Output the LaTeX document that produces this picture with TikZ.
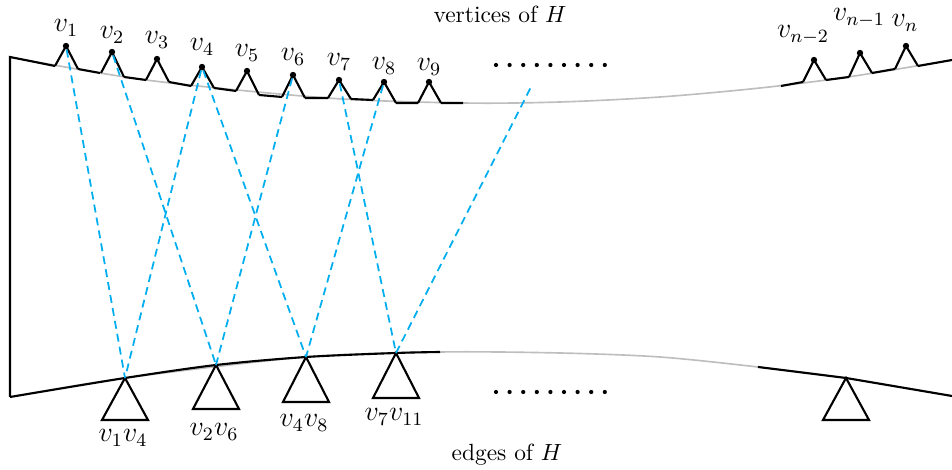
\documentclass[tikz,border=0pt]{standalone}
\usepackage{amsmath}
\usepackage{tikz}
\definecolor{LinkBlue}{HTML}{00AEEF}
\definecolor{RailGray}{HTML}{BEBEBE}

\begin{document}
\begin{tikzpicture}[x=0.015cm,y=-0.015cm,
  rail/.style={RailGray,line width=0.7pt},
  wall/.style={black,line width=0.9pt},
  link/.style={LinkBlue,line width=0.75pt,dash pattern=on 3.4pt off 2.2pt},
  vdot/.style={circle,fill=black,inner sep=0pt,minimum size=2.7pt},
  vlab/.style={font=\fontsize{11.5}{13}\selectfont}]
  \useasboundingbox (0,0) rectangle (952,470);
  % gray rails under the two sides
  \draw[rail] plot[smooth] coordinates {(10,57) (146,80) (327,98) (463,103)
    (560,102) (660,97) (760,88) (848,77) (952,60)};
  \draw[rail] plot[smooth] coordinates {(10,397) (125,378) (306,357) (440,352)
    (560,353) (660,357) (758,367) (846,378) (952,396)};
  % frame and top segments between the teeth
  \draw[wall] (55,66) -- (10,57) -- (10,397);
  \draw[wall] (78,69) -- (100,73) (124,77) -- (146,80) (169,82) -- (191,86)
    (214,88) -- (236,91) (259,95) -- (282,97) (305,98) -- (328,98)
    (351,99) -- (373,100) (396,103) -- (418,103) (441,103) -- (463,103);
  \draw[wall] (781,86) -- (803,82) (826,80) -- (849,77) (872,73) -- (895,69)
    (918,66) -- (952,60);
  % vertices of H
  \foreach \n/\x/\y/\l/\r/\ly in {1/66/46/66/69/28, 2/112/52/73/77/35,
                                  3/157/59/80/82/40, 4/202/67/86/88/47,
                                  5/247/71/91/95/53, 6/293/75/97/98/57,
                                  7/339/80/98/99/62, 8/384/82/100/103/66,
                                  9/429/82/103/103/67}{
    \draw[wall] (\x-11,\l) -- (\x,\y) -- (\x+12,\r);
    \node[vdot] (v\n) at (\x,\y) {};
    \node[vlab] (lv\n) at (\x,\ly) {$v_{\n}$};
  }
  \foreach \n/\lab/\x/\y/\l/\r/\lx/\ly in {n2/n-2/814/60/82/80/803/35,
                                           n1/n-1/860/53/77/73/859/18,
                                           n/n/906/46/69/66/905/23}{
    \draw[wall] (\x-11,\l) -- (\x,\y) -- (\x+12,\r);
    \node[vdot] (v\n) at (\x,\y) {};
    \node[vlab] (lv\n) at (\lx,\ly) {$v_{\lab}$};
  }
  % bottom side
  \draw[wall] plot[smooth] coordinates {(10,397) (125,378) (216,365)
    (306,357) (396,353) (440,352)};
  \draw[wall] (758,367) -- (846,378) -- (952,396);
  % edges of H
  \foreach \n/\x/\y/\h/\lab/\ly in {14/125/378/42/v_1v_4/438,
                                    26/216/365/44/v_2v_6/432,
                                    48/306/357/45/v_4v_8/423,
                                    711/396/353/45/v_7v_{11}/417}{
    \coordinate (e\n) at (\x,\y);
    \draw[wall] (e\n) -- ++(-23,\h) -- ++(46,0) -- cycle;
    \node[vlab] (le\n) at (\x-2,\ly) {$\lab$};
  }
  \coordinate (en) at (846,378);
  \draw[wall] (en) -- ++(-23,42) -- ++(46,0) -- cycle;
  % incidences
  \coordinate (vmore) at (531,87);
  \draw[link] (v1) -- (e14);
  \draw[link] (v4) -- (e14);
  \draw[link] (v2) -- (e26);
  \draw[link] (v6) -- (e26);
  \draw[link] (v4) -- (e48);
  \draw[link] (v8) -- (e48);
  \draw[link] (v7) -- (e711);
  \draw[link] (e711) -- (vmore);
  % dots for the omitted ones
  \foreach \k in {0,...,8}{
    \fill (496+13.6*\k,65) circle (0.9pt);
    \fill (496+13.6*\k,392) circle (0.9pt);
  }
  \node (vtx) at (500,14) {vertices of $H$};
  \node (edg) at (507,455) {edges of $H$};
\end{tikzpicture}
\end{document}
